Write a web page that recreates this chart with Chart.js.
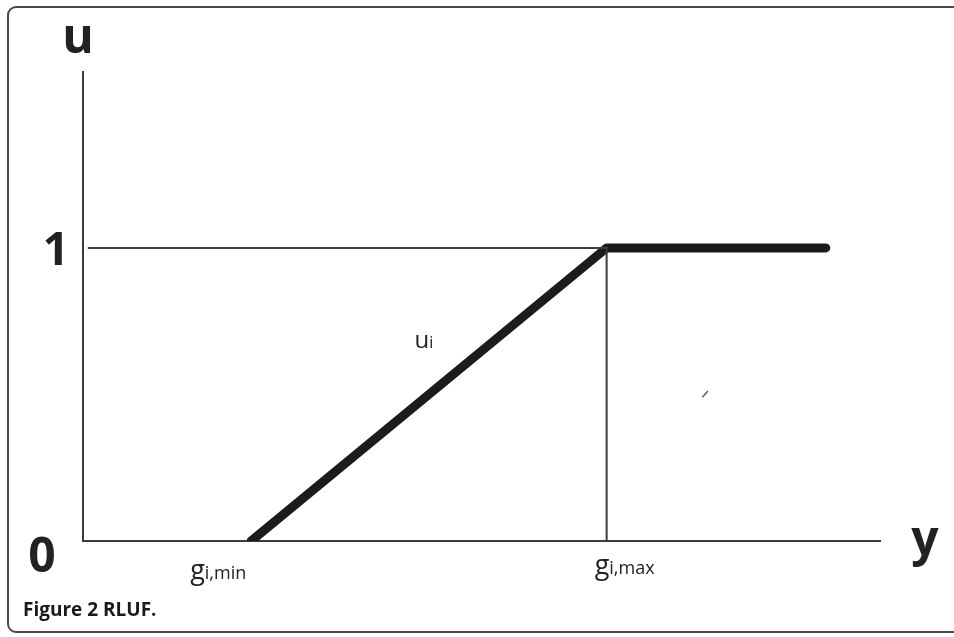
<!DOCTYPE html>
<html>
<head>
<meta charset="utf-8">
<script src="https://cdn.jsdelivr.net/npm/chart.js@4.4.0/dist/chart.umd.min.js"></script>
<style>
  html, body { margin: 0; padding: 0; background: #fff; overflow: hidden; }
  #frame {
    position: absolute; left: 7px; top: 6px; width: 980px; height: 627px;
    border: 2px solid #4a4a4a; border-radius: 9px; box-sizing: border-box;
  }
  #wrap { position: absolute; left: 0; top: 0; width: 954px; height: 637px; }
  #caption {
    position: absolute; left: 23px; top: 596px;
    font: 700 19px "Open Sans", sans-serif; color: #1a1a1a;
  }
</style>
</head>
<body>
<div id="frame"></div>
<div id="wrap"><canvas id="chart" width="954" height="637"></canvas></div>
<div id="caption">Figure 2 RLUF.</div>
<script>
// horizontal variable y, vertical utility u
const gMin = 21.1;
const gMax = 65.7;
const yEnd = 93.2;
const xRange = [0, 100];
const uRange = [0, 1.6];

// the RLUF curve u_i
const curveX = [gMin, gMax, yEnd];
const curveU = [0, 1, 1];

// guide lines to u = 1 and down to g_i,max
const guideX = [0.6, gMax, gMax];
const guideU = [1, 1, 0];

// stray pen mark in the figure
const markX = [77.7, 78.4];
const markU = [0.49, 0.512];

const toPoints = (xs, us) => xs.map((x, i) => ({ x: x, y: us[i] }));

const labelPlugin = {
  id: 'labels',
  afterDraw(chart) {
    const ctx = chart.ctx;
    const xs = chart.scales.x, ys = chart.scales.y;
    const x0 = xs.getPixelForValue(0), y0 = ys.getPixelForValue(0);
    const y1 = ys.getPixelForValue(1);
    const top = ys.getPixelForValue(uRange[1]);
    const right = xs.getPixelForValue(xRange[1]);
    ctx.save();
    ctx.fillStyle = '#222';
    ctx.textBaseline = 'alphabetic';

    ctx.font = '700 48px "Open Sans", sans-serif';
    ctx.textAlign = 'center';
    ctx.fillText('u', x0 - 5, top - 19);
    ctx.fillText('y', right + 45, y0 + 14);
    ctx.fillText('0', x0 - 41, y0 + 31);
    ctx.textAlign = 'right';
    ctx.font = '700 46px "Open Sans", sans-serif';
    ctx.fillText('1', x0 - 14, y1 + 17);

    // subscripted labels
    const sub = (base, idx, px, py, big, small) => {
      ctx.textAlign = 'left';
      ctx.font = big + 'px "Open Sans", sans-serif';
      ctx.fillText(base, px, py);
      const w = ctx.measureText(base).width;
      ctx.font = small + 'px "Open Sans", sans-serif';
      ctx.fillText(idx, px + w, py);
    };
    sub('g', 'i,min', xs.getPixelForValue(gMin) - 61, y0 + 38, 27, 18);
    sub('g', 'i,max', xs.getPixelForValue(gMax) - 12, y0 + 33, 27, 18);
    sub('u', 'i', xs.getPixelForValue(41.6), ys.getPixelForValue(0.66), 24, 16);
    ctx.restore();
  }
};

new Chart(document.getElementById('chart'), {
  type: 'line',
  data: {
    datasets: [
      {
        data: toPoints(guideX, guideU),
        borderColor: '#3c3c3c', borderWidth: 2,
        pointRadius: 0, tension: 0, clip: 0
      },
      {
        data: toPoints(curveX, curveU),
        borderColor: '#1c1c1c', borderWidth: 9,
        borderCapStyle: 'round', borderJoinStyle: 'round',
        pointRadius: 0, tension: 0, clip: { left: 0, top: 10, right: 10, bottom: 0 }
      },
      {
        data: toPoints(markX, markU),
        borderColor: '#555', borderWidth: 1.5,
        pointRadius: 0, tension: 0, clip: 0
      }
    ]
  },
  options: {
    responsive: false,
    animation: false,
    layout: { padding: { left: 83, top: 72, right: 74, bottom: 96 } },
    plugins: { legend: { display: false }, tooltip: { enabled: false } },
    scales: {
      x: {
        type: 'linear', min: xRange[0], max: xRange[1],
        grid: { display: false, drawTicks: false },
        ticks: { display: false },
        border: { display: true, color: '#3c3c3c', width: 2 }
      },
      y: {
        type: 'linear', min: uRange[0], max: uRange[1],
        grid: { display: false, drawTicks: false },
        ticks: { display: false },
        border: { display: true, color: '#3c3c3c', width: 2 }
      }
    }
  },
  plugins: [labelPlugin]
});
</script>
</body>
</html>
